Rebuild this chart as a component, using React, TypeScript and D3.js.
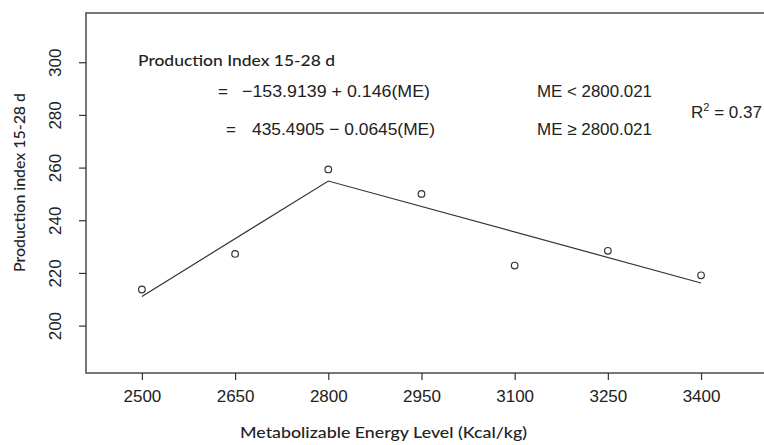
import { axisBottom, axisLeft, line, scaleLinear, select } from "d3";
import { useEffect, useRef } from "react";

// observed means per energy level
const energyLevels = [2500, 2650, 2800, 2950, 3100, 3250, 3400];
const productionIndex = [213.7, 227.2, 259.3, 250.0, 222.8, 228.4, 219.1];

// broken-line fit: knot at 2800.021
const fitEnergy = [2500, 2800.021, 3400];
const fitIndex = [211.09, 254.89, 216.19];

const xTicks = [2500, 2650, 2800, 2950, 3100, 3250, 3400];
const yTicks = [200, 220, 240, 260, 280, 300];

const width = 764;
const height = 445;
const plot = { left: 86, right: 770, top: 13, bottom: 373 };

const sans = "'Liberation Sans', Arial, sans-serif";
const humanist = "Lato, 'Open Sans', sans-serif";
const ink = "#222";

export default function App() {
  const xAxisRef = useRef<SVGGElement>(null);
  const yAxisRef = useRef<SVGGElement>(null);

  const x = scaleLinear().domain([2410, 3511]).range([plot.left, plot.right]);
  const y = scaleLinear().domain([182, 318.7]).range([plot.bottom, plot.top]);

  const fitLine = line<number>()
    .x((d) => x(d))
    .y((_, i) => y(fitIndex[i]));

  useEffect(() => {
    const gx = select(xAxisRef.current);
    gx.selectAll("*").remove();
    gx.call(axisBottom(x).tickValues(xTicks).tickSize(7).tickPadding(8).tickFormat((d) => String(d)));
    gx.select(".domain").remove();
    gx.selectAll(".tick line").attr("stroke", "#333").attr("stroke-width", 1.2);
    gx.selectAll(".tick text")
      .attr("fill", ink)
      .attr("font-family", sans)
      .attr("font-size", 17)
      .attr("dy", null)
      .attr("y", 29);

    const gy = select(yAxisRef.current);
    gy.selectAll("*").remove();
    gy.call(axisLeft(y).tickValues(yTicks).tickSize(7).tickFormat((d) => String(d)));
    gy.select(".domain").remove();
    gy.selectAll(".tick line").attr("stroke", "#333").attr("stroke-width", 1.2);
    gy.selectAll(".tick text")
      .attr("fill", ink)
      .attr("font-family", sans)
      .attr("font-size", 17)
      .attr("text-anchor", "middle")
      .attr("x", null)
      .attr("dy", null)
      .attr("transform", "translate(-25,0) rotate(-90)")
      .attr("y", 0);
  }, []);

  return (
    <div style={{ position: "fixed", left: 0, top: 0 }}>
      <svg width={width} height={height} style={{ display: "block", background: "#fff" }}>
        <rect
          x={plot.left}
          y={plot.top}
          width={plot.right - plot.left}
          height={plot.bottom - plot.top}
          fill="none"
          stroke="#555"
          strokeWidth={1.6}
        />
        <g ref={xAxisRef} transform={`translate(0,${plot.bottom})`} />
        <g ref={yAxisRef} transform={`translate(${plot.left},0)`} />

        <path d={fitLine(fitEnergy) ?? ""} fill="none" stroke="#333" strokeWidth={1.2} />
        {energyLevels.map((e, i) => (
          <circle key={e} cx={x(e)} cy={y(productionIndex[i])} r={3.3} fill="none" stroke="#333" strokeWidth={1.2} />
        ))}

        <g fill={ink}>
          <text x={138} y={66} fontFamily={humanist} fontSize={16} fontWeight={500} textLength={197} lengthAdjust="spacingAndGlyphs">
            Production Index 15-28 d
          </text>
          <text x={218} y={97} fontFamily={sans} fontSize={17}>=</text>
          <text x={242} y={97} fontFamily={sans} fontSize={17} textLength={188} lengthAdjust="spacingAndGlyphs">
            −153.9139 + 0.146(ME)
          </text>
          <text x={226} y={135} fontFamily={sans} fontSize={17}>=</text>
          <text x={252} y={135} fontFamily={sans} fontSize={17} textLength={183} lengthAdjust="spacingAndGlyphs">
            435.4905 − 0.0645(ME)
          </text>
          <text x={537} y={97} fontFamily={sans} fontSize={17} textLength={115} lengthAdjust="spacingAndGlyphs">
            ME &lt; 2800.021
          </text>
          <text x={537} y={135} fontFamily={sans} fontSize={17} textLength={115} lengthAdjust="spacingAndGlyphs">
            ME ≥ 2800.021
          </text>
          <text x={691} y={118} fontFamily={sans} fontSize={17}>
            R<tspan dy={-7} fontSize={11}>2</tspan>
            <tspan dy={7}> = 0.37</tspan>
          </text>

          <text x={383.5} y={438} textAnchor="middle" fontFamily={humanist} fontSize={16} fontWeight={500} textLength={287} lengthAdjust="spacingAndGlyphs">
            Metabolizable Energy Level (Kcal/kg)
          </text>
          <text
            transform="translate(25,182.5) rotate(-90)"
            textAnchor="middle"
            fontFamily={humanist}
            fontSize={16}
            fontWeight={500}
            textLength={179}
            lengthAdjust="spacingAndGlyphs"
          >
            Production index 15-28 d
          </text>
        </g>
      </svg>
    </div>
  );
}
